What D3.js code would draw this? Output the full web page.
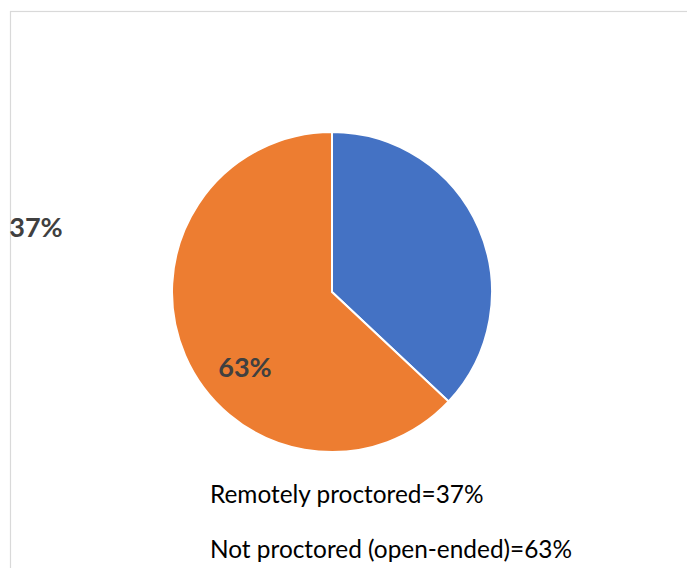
<!DOCTYPE html>
<html>
<head>
<meta charset="utf-8">
<script src="https://cdn.jsdelivr.net/npm/d3@7"></script>
<style>
    body { margin: 0; background: #fff; }
    svg { display: block; }
</style>
</head>
<body>
<div id="chart"></div>
<script>
// slice data
const categories = ['Remotely proctored', 'Not proctored (open-ended)'];
const shares = [37, 63];
const colors = ['#4472C4', '#ED7D31'];
const legendLines = ['Remotely proctored=37%', 'Not proctored (open-ended)=63%'];

const width = 687;
const height = 568;

const svg = d3.select('#chart').append('svg')
    .attr('width', width)
    .attr('height', height);

// chart frame (runs off the right/bottom of the picture)
svg.append('rect')
    .attr('x', 10.5)
    .attr('y', 11.5)
    .attr('width', 700)
    .attr('height', 600)
    .attr('fill', 'none')
    .attr('stroke', '#d9d9d9')
    .attr('stroke-width', 1.2);

const cx = 332, cy = 292, radius = 160;

const pie = d3.pie().sort(null).value(d => d);
const arcs = pie(shares);
const arc = d3.arc().innerRadius(0).outerRadius(radius);

const g = svg.append('g').attr('transform', `translate(${cx},${cy})`);

g.selectAll('path')
    .data(arcs)
    .enter().append('path')
    .attr('d', arc)
    .attr('fill', (d, i) => colors[i])
    .attr('stroke', '#fff')
    .attr('stroke-width', 2);

// data labels, placed where the original had them
const labelPos = [[36, 226], [245, 366]];
svg.selectAll('text.pct')
    .data(arcs)
    .enter().append('text')
    .attr('class', 'pct')
    .attr('x', (d, i) => labelPos[i][0])
    .attr('y', (d, i) => labelPos[i][1])
    .attr('text-anchor', 'middle')
    .attr('dominant-baseline', 'central')
    .style('font-family', 'Lato, "Open Sans", sans-serif')
    .style('font-weight', 'bold')
    .style('font-size', '27px')
    .style('fill', '#404040')
    .text(d => d.data + '%');

svg.selectAll('text.legend')
    .data(legendLines)
    .enter().append('text')
    .attr('class', 'legend')
    .attr('x', 210)
    .attr('y', (d, i) => 503 + i * 55)
    .style('font-family', 'Lato, "Open Sans", sans-serif')
    .style('font-size', '24.4px')
    .style('fill', '#000')
    .text(d => d);
</script>
</body>
</html>
